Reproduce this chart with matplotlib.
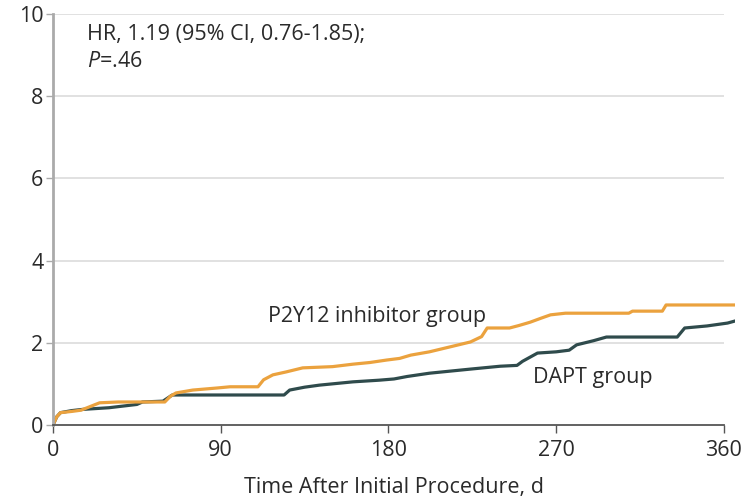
import matplotlib.pyplot as plt

# Cumulative incidence (%) read per group
p2y12_days = [0, 2, 4, 10, 15, 20, 25, 35, 45, 60, 63, 66, 75, 88, 95, 110, 113, 118, 125, 134,
              150, 161, 170, 179, 186, 192, 202, 213, 224, 230, 233, 245, 250, 256, 262, 267,
              275, 309, 311, 327, 329, 366]
p2y12_vals = [0, 0.2, 0.3, 0.33, 0.36, 0.45, 0.54, 0.56, 0.56, 0.56, 0.7, 0.78, 0.85, 0.9, 0.93,
              0.93, 1.1, 1.22, 1.29, 1.39, 1.42, 1.48, 1.52, 1.58, 1.62, 1.7, 1.78, 1.9, 2.02,
              2.15, 2.36, 2.36, 2.42, 2.5, 2.6, 2.68, 2.72, 2.72, 2.77, 2.77, 2.92, 2.92]

dapt_days = [0, 2, 4, 10, 16, 30, 45, 48, 59, 64, 124, 127, 135, 143, 161, 175, 183, 190, 202,
             224, 240, 249, 252, 256, 260, 270, 277, 281, 290, 297, 335, 339, 351, 362, 366]
dapt_vals = [0, 0.2, 0.3, 0.35, 0.38, 0.42, 0.5, 0.56, 0.58, 0.73, 0.73, 0.85, 0.92, 0.97, 1.05,
             1.09, 1.12, 1.18, 1.26, 1.36, 1.43, 1.45, 1.55, 1.65, 1.75, 1.78, 1.82, 1.95, 2.05,
             2.14, 2.14, 2.36, 2.41, 2.48, 2.53]

x_ticks = [0, 90, 180, 270, 360]
y_ticks = [0, 2, 4, 6, 8, 10]

orange = '#EBA23E'
dark = '#2F4B4C'
txt = '#2A2A2A'
fs = 15.5

plt.rcParams['font.family'] = ['Open Sans', 'DejaVu Sans']
plt.rcParams['mathtext.fontset'] = 'custom'
plt.rcParams['mathtext.it'] = 'Open Sans:italic'
plt.rcParams['mathtext.rm'] = 'Open Sans'

fig = plt.figure(figsize=(7.51, 4.99), dpi=100)
ax = fig.add_axes([0.0706, 0.1483, 0.9081, 0.8237])

# horizontal guide lines stop at day 360
for y in y_ticks[1:]:
    ax.hlines(y, 0, 360, color='#DCDCDC', lw=1.2, zorder=0)

ax.plot(dapt_days, dapt_vals, color=dark, lw=2.3, solid_joinstyle='round')
ax.plot(p2y12_days, p2y12_vals, color=orange, lw=2.3, solid_joinstyle='round')

ax.set_xlim(0, 366)
ax.set_ylim(0, 10)
ax.set_xticks(x_ticks)
ax.set_yticks(y_ticks)

for side in ['top', 'right']:
    ax.spines[side].set_visible(False)
ax.spines['bottom'].set_bounds(0, 360)
ax.spines['bottom'].set_color('#555555')
ax.spines['bottom'].set_linewidth(1.3)
ax.spines['left'].set_color('#AAAAAA')
ax.spines['left'].set_linewidth(2)

ax.tick_params(axis='y', length=5, width=1, color='#AAAAAA', labelsize=fs,
               labelcolor=txt, pad=2)
ax.tick_params(axis='x', length=6, width=1, color='#555555', labelsize=fs,
               labelcolor=txt, pad=5)
ax.set_xlabel('Time After Initial Procedure, d', fontsize=fs, color=txt, labelpad=11)

ax.text(18, 9.37, 'HR, 1.19 (95% CI, 0.76-1.85);', fontsize=fs, color=txt, va='baseline')
ax.text(18, 8.71, r'$P$=.46', fontsize=fs, color=txt, va='baseline')
ax.text(115.4, 2.51, 'P2Y12 inhibitor group', fontsize=fs, color=txt, va='baseline')
ax.text(257.6, 1.02, 'DAPT group', fontsize=fs, color=txt, va='baseline')

fig.savefig('out.png', dpi=100)
